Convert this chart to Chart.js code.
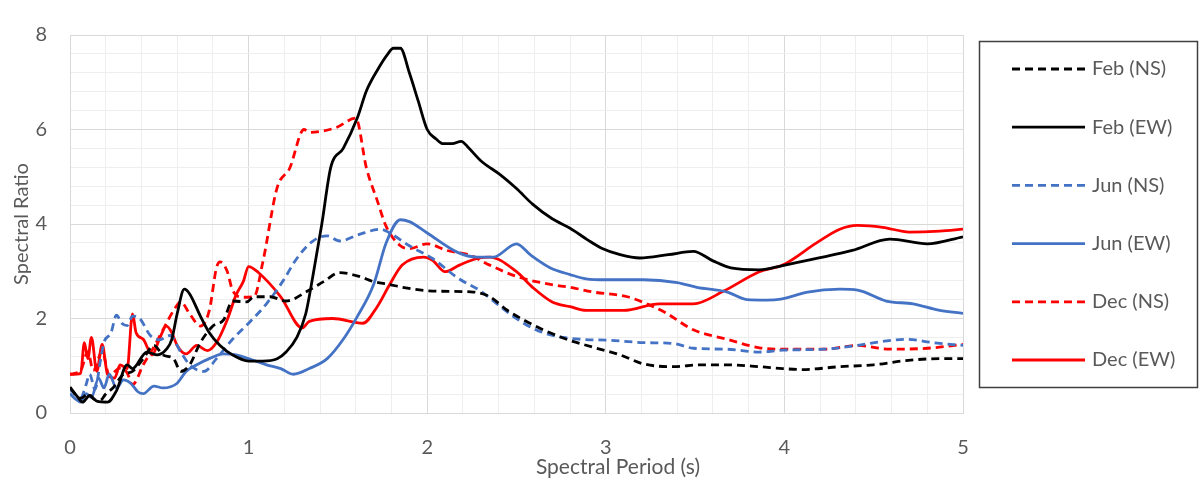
<!DOCTYPE html>
<html>
<head>
<meta charset="utf-8">
<script src="https://cdn.jsdelivr.net/npm/chart.js@4"></script>
<style>
html,body{margin:0;padding:0;background:#fff;}
#wrap{width:1201px;height:485px;position:relative;}
</style>
</head>
<body>
<div id="wrap"><canvas id="c" width="1201" height="485"></canvas></div>
<script>
// ---- data ----
const seriesNames = ["Feb (NS)", "Feb (EW)", "Jun (NS)", "Jun (EW)", "Dec (NS)", "Dec (EW)"];

const febNS_T = [0,0.06,0.1,0.14,0.17,0.2,0.24,0.3,0.35,0.41,0.47,0.52,0.58,0.62,0.67,0.73,0.8,0.86,0.91,0.99,1.03,1.12,1.21,1.33,1.42,1.51,1.62,1.7,1.79,1.86,2.03,2.26,2.35,2.45,2.54,2.65,2.78,2.93,3.08,3.21,3.38,3.53,3.68,3.86,3.99,4.1,4.31,4.5,4.68,4.87,5.0];
const febNS_V = [0.53,0.31,0.4,0.28,0.27,0.4,0.53,0.82,0.88,1.15,1.43,1.23,1.15,0.88,1.02,1.49,1.84,1.97,2.37,2.35,2.46,2.46,2.37,2.58,2.78,2.97,2.89,2.78,2.72,2.66,2.58,2.56,2.46,2.17,1.97,1.76,1.56,1.39,1.23,1.04,0.98,1.02,1.02,0.98,0.94,0.92,0.98,1.02,1.11,1.15,1.15];

const febEW_T = [0,0.04,0.07,0.11,0.15,0.21,0.26,0.32,0.35,0.43,0.49,0.54,0.57,0.6,0.64,0.67,0.73,0.78,0.84,0.91,1.0,1.08,1.16,1.21,1.27,1.32,1.36,1.41,1.46,1.53,1.61,1.66,1.72,1.78,1.81,1.85,1.9,1.95,2.0,2.05,2.09,2.14,2.19,2.23,2.3,2.41,2.5,2.59,2.7,2.8,2.9,2.98,3.08,3.19,3.35,3.49,3.6,3.7,3.86,3.99,4.18,4.38,4.59,4.8,5.0];
const febEW_V = [0.55,0.35,0.23,0.37,0.25,0.23,0.47,1.02,0.94,1.29,1.23,1.35,1.56,2.1,2.62,2.52,2.05,1.7,1.43,1.23,1.1,1.1,1.15,1.29,1.6,2.1,2.9,4.0,5.2,5.6,6.26,6.82,7.25,7.6,7.72,7.72,7.2,6.6,6.0,5.8,5.7,5.7,5.75,5.62,5.34,5.04,4.75,4.42,4.11,3.91,3.66,3.48,3.35,3.28,3.35,3.42,3.22,3.07,3.03,3.12,3.27,3.44,3.68,3.58,3.73];

const junNS_T = [0,0.06,0.09,0.11,0.14,0.17,0.19,0.23,0.26,0.29,0.32,0.35,0.39,0.45,0.5,0.56,0.62,0.67,0.75,0.82,0.91,1.0,1.1,1.19,1.27,1.36,1.44,1.51,1.62,1.74,1.79,1.9,2.03,2.17,2.3,2.41,2.54,2.65,2.76,2.86,3.02,3.21,3.38,3.49,3.68,3.86,3.99,4.22,4.41,4.54,4.68,4.83,5.0];
const junNS_V = [0.5,0.33,0.6,0.82,0.5,1.1,1.49,1.7,2.07,1.9,1.85,2.05,2.0,1.64,1.55,1.64,1.29,1.02,0.88,1.15,1.56,1.9,2.31,2.78,3.27,3.64,3.75,3.64,3.78,3.89,3.81,3.54,3.27,2.86,2.58,2.25,1.9,1.7,1.6,1.56,1.54,1.49,1.47,1.37,1.35,1.29,1.33,1.35,1.43,1.51,1.56,1.49,1.43];

const junEW_T = [0,0.03,0.06,0.09,0.12,0.16,0.19,0.22,0.26,0.3,0.34,0.38,0.41,0.47,0.52,0.6,0.65,0.71,0.78,0.86,0.93,1.0,1.1,1.18,1.25,1.34,1.44,1.53,1.61,1.7,1.77,1.85,1.9,2.0,2.17,2.28,2.37,2.5,2.58,2.69,2.8,2.89,3.0,3.21,3.4,3.51,3.68,3.79,3.9,3.98,4.13,4.31,4.41,4.57,4.72,4.87,5.0];
const junEW_V = [0.41,0.3,0.23,0.41,0.33,0.74,0.53,0.82,0.53,0.7,0.63,0.45,0.41,0.57,0.53,0.63,0.88,1.02,1.15,1.25,1.23,1.15,1.02,0.94,0.82,0.94,1.15,1.56,2.05,2.72,3.6,4.09,4.05,3.81,3.4,3.3,3.3,3.58,3.34,3.07,2.93,2.84,2.82,2.82,2.76,2.66,2.56,2.4,2.39,2.41,2.56,2.62,2.6,2.37,2.31,2.17,2.11];

const decNS_T = [0,0.06,0.1,0.13,0.18,0.22,0.28,0.32,0.35,0.41,0.47,0.54,0.58,0.62,0.67,0.73,0.78,0.82,0.84,0.88,0.91,0.97,1.03,1.08,1.16,1.23,1.31,1.34,1.49,1.6,1.66,1.72,1.77,1.85,1.9,2.0,2.11,2.24,2.35,2.5,2.69,2.8,2.93,3.12,3.23,3.34,3.49,3.68,3.86,4.0,4.22,4.41,4.59,4.8,5.0];
const decNS_V = [0.82,0.9,1.3,0.9,1.3,0.8,0.95,0.85,0.6,1.02,1.4,1.9,2.17,2.35,2.1,1.84,2.17,3.07,3.2,3.0,2.6,2.45,2.46,3.2,4.77,5.18,6.0,5.94,6.04,6.24,5.18,4.5,3.95,3.54,3.48,3.58,3.44,3.34,3.13,2.89,2.72,2.66,2.56,2.46,2.31,2.11,1.76,1.56,1.38,1.35,1.35,1.43,1.35,1.37,1.45];

const decEW_T = [0,0.06,0.08,0.1,0.12,0.15,0.18,0.21,0.25,0.28,0.32,0.35,0.37,0.41,0.46,0.5,0.54,0.57,0.6,0.65,0.71,0.77,0.82,0.88,0.93,0.97,1.0,1.05,1.18,1.3,1.34,1.47,1.64,1.72,1.79,1.86,1.98,2.03,2.1,2.18,2.28,2.35,2.5,2.59,2.7,2.8,2.89,3.1,3.3,3.49,3.66,3.86,3.99,4.18,4.31,4.41,4.55,4.7,4.87,5.0];
const decEW_V = [0.82,0.84,1.49,1.15,1.6,0.88,1.45,0.82,0.74,1.02,0.94,2.1,1.7,1.56,1.23,1.56,1.84,1.7,1.43,1.25,1.43,1.32,1.49,1.97,2.5,2.78,3.1,2.99,2.46,1.8,1.94,2.0,1.9,2.25,2.72,3.13,3.3,3.23,2.99,3.13,3.27,3.3,2.99,2.66,2.35,2.25,2.17,2.17,2.31,2.31,2.58,2.99,3.13,3.6,3.89,3.97,3.93,3.83,3.85,3.89];

const xTickLabels = ["0","1","2","3","4","5"];
const yTickLabels = ["0","2","4","6","8"];
const xTitle = "Spectral Period (s)";
const yTitle = "Spectral Ratio";

// ---- styles ----
const BLACK = "#000000", BLUE = "#4472C4", RED = "#FF0000";
const styles = [
  {color: BLACK, dash: [8,5]},
  {color: BLACK, dash: []},
  {color: BLUE, dash: [8,5]},
  {color: BLUE, dash: []},
  {color: RED, dash: [8,5]},
  {color: RED, dash: []}
];
const periods = [febNS_T, febEW_T, junNS_T, junEW_T, decNS_T, decEW_T];
const values = [febNS_V, febEW_V, junNS_V, junEW_V, decNS_V, decEW_V];

const FONT = "Lato, 'Noto Sans', sans-serif";
const GRAY = "#595959";

const datasets = seriesNames.map((name, i) => ({
  label: name,
  data: periods[i].map((t, k) => ({x: t, y: values[i][k]})),
  borderColor: styles[i].color,
  backgroundColor: styles[i].color,
  borderDash: styles[i].dash,
  borderWidth: 2.8,
  pointRadius: 0,
  fill: false,
  showLine: true,
  cubicInterpolationMode: 'monotone',
  borderCapStyle: 'butt'
}));

const isMult = (v, m) => Math.abs(v - Math.round(v / m) * m) < 1e-6;

const legendPlugin = {
  id: 'boxLegend',
  afterDraw(chart) {
    const ctx = chart.ctx;
    ctx.save();
    // x axis title
    ctx.fillStyle = GRAY;
    ctx.font = "21px " + FONT;
    ctx.textAlign = "center";
    ctx.textBaseline = "middle";
    ctx.fillText(xTitle, 618, 467);
    // legend box
    ctx.strokeStyle = "#404040";
    ctx.lineWidth = 1.5;
    ctx.strokeRect(979.5, 41.5, 218, 346);
    const y0 = 69, dy = 58.2;
    chart.data.datasets.forEach((ds, i) => {
      const y = y0 + i * dy;
      ctx.beginPath();
      ctx.setLineDash(ds.borderDash);
      ctx.strokeStyle = ds.borderColor;
      ctx.lineWidth = 2.8;
      ctx.moveTo(1012, y);
      ctx.lineTo(1085, y);
      ctx.stroke();
      ctx.setLineDash([]);
      ctx.fillStyle = GRAY;
      ctx.font = "20px " + FONT;
      ctx.textBaseline = "middle";
      ctx.textAlign = "left";
      ctx.fillText(ds.label, 1092, y);
    });
    ctx.restore();
  }
};

new Chart(document.getElementById('c'), {
  type: 'scatter',
  data: {datasets},
  plugins: [legendPlugin],
  options: {
    responsive: false,
    animation: false,
    devicePixelRatio: 1,
    layout: {padding: {left: 0, top: 22, right: 238, bottom: 0}},
    plugins: {legend: {display: false}, tooltip: {enabled: false}},
    scales: {
      x: {
        type: 'linear', min: 0, max: 5,
        afterFit(s) { s.height = 72; },
        ticks: {
          stepSize: 0.2, autoSkip: false, maxRotation: 0, padding: 23,
          color: GRAY, font: {size: 20, family: FONT},
          callback: (v) => isMult(v, 1) ? xTickLabels[Math.round(v)] : ''
        },
        grid: {
          drawTicks: false,
          color: (c) => isMult(c.tick.value, 1) ? '#d9d9d9' : '#eeeeee',
          lineWidth: 1
        },
        border: {color: '#d9d9d9'},
        title: {display: false}
      },
      y: {
        type: 'linear', min: 0, max: 8,
        afterFit(s) { s.width = 70; },
        ticks: {
          stepSize: 0.4, autoSkip: false, padding: 23,
          color: GRAY, font: {size: 20, family: FONT},
          callback: (v) => isMult(v, 2) ? yTickLabels[Math.round(v / 2)] : ''
        },
        grid: {
          drawTicks: false,
          color: (c) => isMult(c.tick.value, 2) ? '#d9d9d9' : '#eeeeee',
          lineWidth: 1
        },
        border: {color: '#d9d9d9'},
        title: {display: true, text: yTitle, color: GRAY, font: {size: 20, family: FONT}, padding: {top: 10, bottom: 0}}
      }
    }
  }
});
</script>
</body>
</html>
